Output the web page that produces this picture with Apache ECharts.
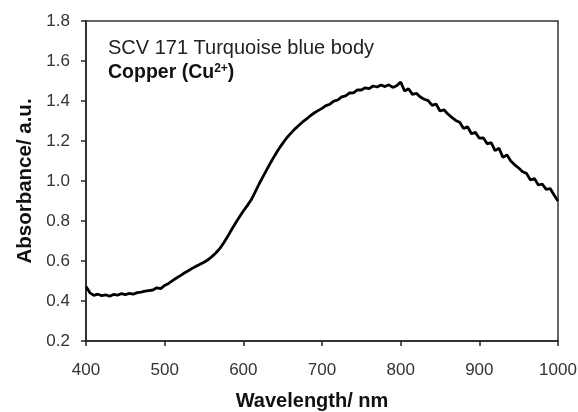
<!DOCTYPE html>
<html>
<head>
<meta charset="utf-8">
<script src="https://cdn.jsdelivr.net/npm/echarts@6/dist/echarts.min.js"></script>
<style>
  html, body { margin: 0; padding: 0; background: #fff; }
  #main { width: 578px; height: 412px; }
</style>
</head>
<body>
<div id="main"></div>
<script>
// 光谱数据（400-1000 nm，每 5 nm 一点，读自原图）
var waveStart = 400;
var waveStep = 5;
var absorbance = [
  0.472, 0.441, 0.428, 0.434, 0.427, 0.431, 0.424, 0.433, 0.429, 0.437,
  0.432, 0.438, 0.434, 0.442, 0.444, 0.449, 0.452, 0.455, 0.466, 0.462,
  0.478, 0.488, 0.502, 0.515, 0.527, 0.540, 0.551, 0.563, 0.574, 0.584,
  0.594, 0.606, 0.622, 0.640, 0.662, 0.690, 0.722, 0.756, 0.789, 0.820,
  0.850, 0.877, 0.906, 0.944, 0.985, 1.022, 1.058, 1.094, 1.128, 1.160,
  1.188, 1.215, 1.237, 1.258, 1.276, 1.294, 1.309, 1.326, 1.340, 1.352,
  1.363, 1.377, 1.384, 1.399, 1.405, 1.421, 1.426, 1.440, 1.441, 1.456,
  1.455, 1.466, 1.462, 1.475, 1.470, 1.480, 1.472, 1.481, 1.468, 1.476,
  1.495, 1.450, 1.461, 1.433, 1.438, 1.420, 1.409, 1.402, 1.378, 1.385,
  1.350, 1.356, 1.335, 1.318, 1.303, 1.294, 1.262, 1.271, 1.236, 1.243,
  1.214, 1.216, 1.186, 1.192, 1.152, 1.164, 1.118, 1.131, 1.100, 1.081,
  1.065, 1.046, 1.038, 1.005, 1.012, 0.980, 0.984, 0.958, 0.962, 0.930,
  0.900
];
var xTicks = [400, 500, 600, 700, 800, 900, 1000];
var yTicks = [0.2, 0.4, 0.6, 0.8, 1.0, 1.2, 1.4, 1.6, 1.8];

var font = "'Liberation Sans', Arial, sans-serif";

var seriesData = absorbance.map(function (v, i) {
  return [waveStart + i * waveStep, v];
});

var myChart = echarts.init(document.getElementById("main"));
var option = {
  animation: false,
  backgroundColor: "#fff",
  grid: {
    left: 86,
    right: 20,
    top: 21,
    bottom: 71,
    containLabel: false,
    outerBoundsMode: "none",
    show: true,
    borderColor: "#333",
    borderWidth: 1.5
  },
  xAxis: {
    type: "value",
    min: xTicks[0],
    max: xTicks[xTicks.length - 1],
    interval: 100,
    name: "Wavelength/ nm",
    nameLocation: "middle",
    nameGap: 50,
    nameTextStyle: {
      fontFamily: font,
      fontSize: 20,
      fontWeight: "bold",
      color: "#111",
      padding: [0, 20, 0, 0]
    },
    splitLine: { show: false },
    axisLine: { lineStyle: { color: "#222", width: 1.5 } },
    axisTick: { inside: false, length: 5, lineStyle: { color: "#222", width: 1.5 } },
    axisLabel: {
      margin: 21,
      fontFamily: font,
      fontSize: 17,
      color: "#333",
      formatter: function (v) { return String(v); }
    }
  },
  yAxis: {
    type: "value",
    min: yTicks[0],
    max: yTicks[yTicks.length - 1],
    interval: 0.2,
    name: "Absorbance/ a.u.",
    nameLocation: "middle",
    nameGap: 49,
    nameTextStyle: {
      fontFamily: font,
      fontSize: 20.5,
      fontWeight: "bold",
      color: "#111"
    },
    splitLine: { show: false },
    axisLine: { lineStyle: { color: "#222", width: 1.5 } },
    axisTick: { inside: false, length: 5, lineStyle: { color: "#222", width: 1.5 } },
    axisLabel: {
      margin: 16,
      fontFamily: font,
      fontSize: 17,
      color: "#333",
      formatter: function (v) { return v.toFixed(1); }
    }
  },
  graphic: [
    {
      type: "text",
      left: 108,
      top: 38,
      style: {
        text: "SCV 171 Turquoise blue body",
        font: "20px " + font,
        fill: "#222"
      }
    },
    {
      type: "text",
      left: 108,
      top: 63,
      style: {
        text: "{b|Copper (Cu}{s|2+}{b|)}",
        rich: {
          b: { fontFamily: font, fontSize: 19.5, fontWeight: "bold", fill: "#111", color: "#111" },
          s: { fontFamily: font, fontSize: 12, fontWeight: "bold", fill: "#111", color: "#111", verticalAlign: "top", padding: [0, 0, 8, 0] }
        }
      }
    }
  ],
  series: [
    {
      name: "Absorbance",
      type: "line",
      data: seriesData,
      showSymbol: false,
      smooth: false,
      lineStyle: { color: "#000", width: 2.8 }
    }
  ]
};
myChart.setOption(option);
</script>
</body>
</html>
